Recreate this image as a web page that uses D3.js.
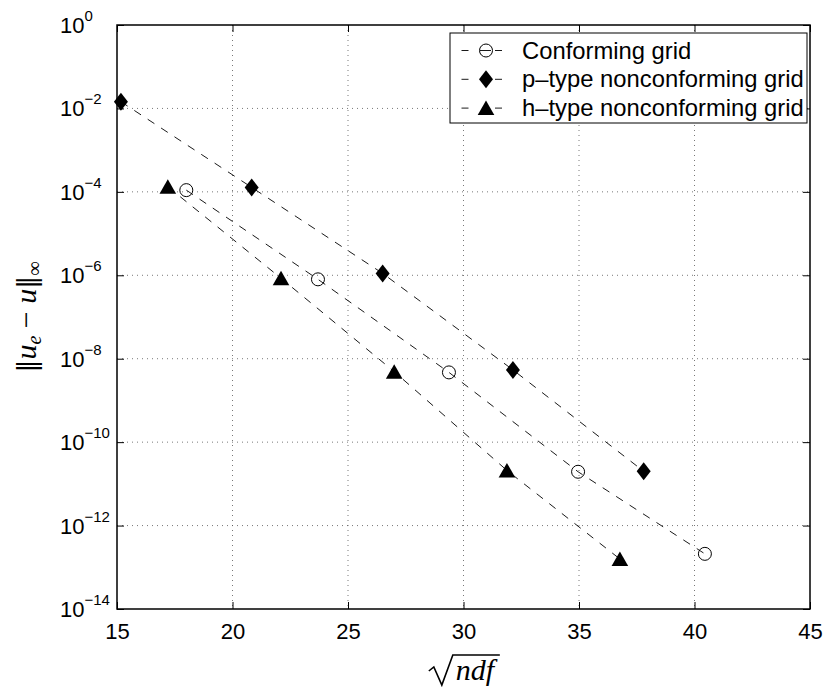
<!DOCTYPE html>
<html>
<head>
<meta charset="utf-8">
<script src="https://cdnjs.cloudflare.com/ajax/libs/d3/7.8.5/d3.min.js"></script>
<style>
  body { margin: 0; background: #fff; }
  svg { display: block; }
  text { fill: #000; }
</style>
</head>
<body>
<svg width="827" height="695"></svg>
<script>
// data
var conformX = [18.0, 23.7, 29.37, 34.96, 40.45];
var conformY = [1.1e-4, 8.0e-7, 4.7e-9, 1.95e-11, 2.1e-13];

var ptypeX = [15.17, 20.83, 26.5, 32.14, 37.8];
var ptypeY = [1.45e-2, 1.28e-4, 1.11e-6, 5.4e-9, 2.0e-11];

var htypeX = [17.2, 22.1, 27.0, 31.88, 36.77];
var htypeY = [1.33e-4, 8.5e-7, 4.9e-9, 2.1e-11, 1.58e-13];

var xTicks = [15, 20, 25, 30, 35, 40, 45];
var yExps = [0, -2, -4, -6, -8, -10, -12, -14];
var legendNames = ['Conforming grid', 'p\u2013type nonconforming grid', 'h\u2013type nonconforming grid'];

var sans = '"Liberation Sans", Arial, sans-serif';
var serif = '"Liberation Serif", "DejaVu Serif", serif';

var svg = d3.select('svg');

var pLeft = 117, pRight = 810, pTop = 25, pBottom = 609;

var scaleX = d3.scaleLinear().domain([15, 45]).range([pLeft, pRight]);
var scaleY = d3.scaleLog().domain([1e-14, 1]).range([pBottom, pTop]);

// grid
var grid = svg.append('g');
xTicks.slice(1, -1).forEach(function(t){
    grid.append('line')
        .attr('x1', scaleX(t)).attr('x2', scaleX(t))
        .attr('y1', pTop).attr('y2', pBottom)
        .attr('stroke', '#555').attr('stroke-width', 0.8)
        .attr('stroke-dasharray', '1,4');
});
yExps.slice(1, -1).forEach(function(e){
    grid.append('line')
        .attr('x1', pLeft).attr('x2', pRight)
        .attr('y1', scaleY(Math.pow(10, e))).attr('y2', scaleY(Math.pow(10, e)))
        .attr('stroke', '#555').attr('stroke-width', 0.8)
        .attr('stroke-dasharray', '1,4');
});

// axes with inward ticks on all four sides
svg.append('g')
    .attr('transform', 'translate(0,' + pBottom + ')')
    .call(d3.axisBottom(scaleX).tickValues(xTicks).tickSizeInner(-7).tickSizeOuter(0).tickPadding(14).tickFormat(d3.format('d')))
    .call(function(g){
        g.select('.domain').remove();
        g.selectAll('text').attr('font-size', 22).style('font-family', sans).attr('dy', '0.71em');
    });
svg.append('g')
    .attr('transform', 'translate(0,' + pTop + ')')
    .call(d3.axisTop(scaleX).tickValues(xTicks).tickSizeInner(-7).tickSizeOuter(0).tickFormat(''))
    .call(function(g){ g.select('.domain').remove(); });

var yTickVals = yExps.map(function(e){ return Math.pow(10, e); });
svg.append('g')
    .attr('transform', 'translate(' + pLeft + ',0)')
    .call(d3.axisLeft(scaleY).tickValues(yTickVals).tickSizeInner(-7).tickSizeOuter(0).tickFormat(''))
    .call(function(g){ g.select('.domain').remove(); });
svg.append('g')
    .attr('transform', 'translate(' + pRight + ',0)')
    .call(d3.axisRight(scaleY).tickValues(yTickVals).tickSizeInner(-7).tickSizeOuter(0).tickFormat(''))
    .call(function(g){ g.select('.domain').remove(); });

// y tick labels: 10 with exponent
yExps.forEach(function(e){
    var t = svg.append('text')
        .attr('x', 60)
        .attr('y', scaleY(Math.pow(10, e)) + 8)
        .style('font-family', sans)
        .attr('font-size', 22);
    t.append('tspan').text('10');
    t.append('tspan')
        .attr('font-size', 15)
        .attr('dy', -12)
        .text(e == 0 ? '0' : '\u2212' + Math.abs(e));
});

// box
svg.append('rect')
    .attr('x', pLeft).attr('y', pTop)
    .attr('width', pRight - pLeft).attr('height', pBottom - pTop)
    .attr('fill', 'none').attr('stroke', '#000').attr('stroke-width', 1.5);

// series
var series = [
    {x: conformX, y: conformY, mark: 'circle'},
    {x: ptypeX, y: ptypeY, mark: 'diamond'},
    {x: htypeX, y: htypeY, mark: 'triangle'}
];

var line = d3.line()
    .x(function(d){ return scaleX(d[0]); })
    .y(function(d){ return scaleY(d[1]); });

function drawMarker(g, type, cx, cy){
    if(type == 'circle'){
        g.append('circle').attr('cx', cx).attr('cy', cy).attr('r', 6.5)
            .attr('fill', 'none').attr('stroke', '#000').attr('stroke-width', 1);
    }
    else if(type == 'diamond'){
        g.append('path').attr('transform', 'translate(' + cx + ',' + cy + ')')
            .attr('d', 'M0,-9L7,0L0,9L-7,0Z').attr('fill', '#000');
    }
    else{
        g.append('path').attr('transform', 'translate(' + cx + ',' + cy + ')')
            .attr('d', 'M0,-7.5L8.3,7L-8.3,7Z').attr('fill', '#000');
    }
}

series.forEach(function(s){
    var pts = d3.zip(s.x, s.y);
    svg.append('path')
        .datum(pts)
        .attr('d', line)
        .attr('fill', 'none')
        .attr('stroke', '#000')
        .attr('stroke-width', 0.9)
        .attr('stroke-dasharray', '8,8');
    var g = svg.append('g');
    pts.forEach(function(p){
        drawMarker(g, s.mark, scaleX(p[0]), scaleY(p[1]));
    });
});

// legend
var lg = svg.append('g');
lg.append('rect')
    .attr('x', 450).attr('y', 33)
    .attr('width', 357).attr('height', 90)
    .attr('fill', '#fff').attr('stroke', '#000').attr('stroke-width', 1);

legendNames.forEach(function(name, i){
    var cy = 50.5 + i * 28.8;
    lg.append('line').attr('x1', 461.5).attr('x2', 468.5).attr('y1', cy).attr('y2', cy)
        .attr('stroke', '#000').attr('stroke-width', 0.9);
    lg.append('line').attr('x1', 495).attr('x2', 502).attr('y1', cy).attr('y2', cy)
        .attr('stroke', '#000').attr('stroke-width', 0.9);
    if(i == 0){
        lg.append('line').attr('x1', 480).attr('x2', 491).attr('y1', cy).attr('y2', cy)
            .attr('stroke', '#000').attr('stroke-width', 0.9);
    }
    drawMarker(lg, series[i].mark, 486, cy);
    lg.append('text')
        .attr('x', 522).attr('y', cy + 8)
        .style('font-family', sans)
        .attr('font-size', 23.8)
        .text(name);
});

// axis labels
var xl = svg.append('g');
var xt = xl.append('text')
    .attr('x', 475).attr('y', 680)
    .attr('text-anchor', 'middle')
    .style('font-family', serif)
    .attr('font-style', 'italic')
    .attr('font-size', 30)
    .text('ndf');
var bb = xt.node().getBBox();
xl.append('path')
    .attr('d', 'M' + (bb.x - 27) + ',671 L' + (bb.x - 22) + ',667 L' + (bb.x - 14) + ',685 L' + (bb.x - 3) + ',655 L' + (bb.x + bb.width + 2) + ',655')
    .attr('fill', 'none').attr('stroke', '#000').attr('stroke-width', 1.6);

var yl = svg.append('text')
    .attr('transform', 'translate(36,317) rotate(-90)')
    .attr('text-anchor', 'middle')
    .style('font-family', serif)
    .attr('font-size', 30);
yl.append('tspan').style('font-family', '"DejaVu Serif", serif').attr('font-size', 26).attr('font-weight', 300).text('\u2016');
yl.append('tspan').attr('font-style', 'italic').text('u');
yl.append('tspan').attr('font-style', 'italic').attr('font-size', 20).attr('dy', 5).text('e');
yl.append('tspan').attr('dy', -5).text(' \u2212 ');
yl.append('tspan').attr('font-style', 'italic').text('u');
yl.append('tspan').style('font-family', '"DejaVu Serif", serif').attr('font-size', 26).attr('font-weight', 300).text('\u2016');
yl.append('tspan').attr('font-size', 20).attr('dy', 5).text('\u221e');
</script>
</body>
</html>
